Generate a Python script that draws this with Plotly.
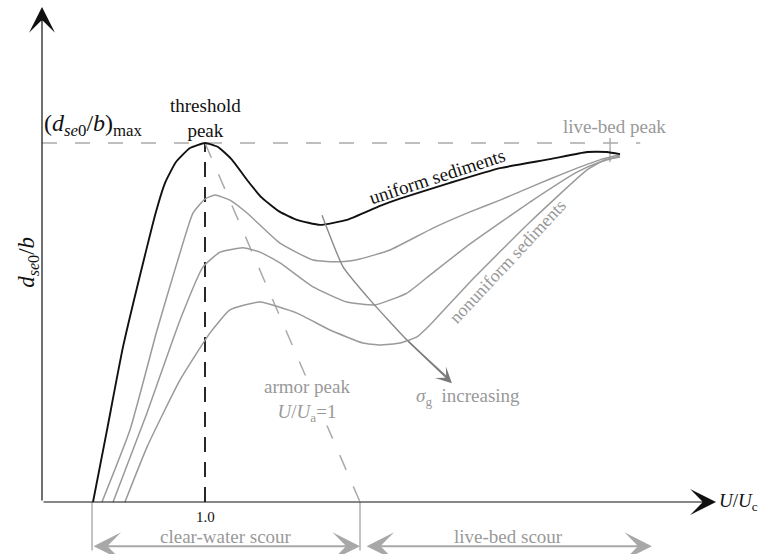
import plotly.graph_objects as go

# ---- data (x = U/Uc, y = d_se0/b normalised by its maximum) ----
x_uniform = [0.313, 0.399, 0.497, 0.644, 0.699, 0.755, 0.822, 0.908, 1.0, 1.080, 1.166, 1.258, 1.350,
             1.460, 1.564, 1.706, 1.871, 2.074, 2.196, 2.503, 2.810, 3.117, 3.344, 3.466, 3.546]
y_uniform = [0.0, 0.201, 0.432, 0.710, 0.808, 0.889, 0.947, 0.986, 1.0, 0.989, 0.953, 0.897, 0.847,
             0.808, 0.786, 0.772, 0.786, 0.825, 0.845, 0.889, 0.930, 0.955, 0.975, 0.975, 0.969]

x_nonuni1 = [0.368, 0.540, 0.706, 0.828, 0.926, 1.0, 1.061, 1.153, 1.258, 1.460, 1.663, 1.828,
             1.951, 2.135, 2.399, 2.626, 2.810, 3.012, 3.221, 3.423, 3.546]
y_nonuni1 = [0.0, 0.201, 0.479, 0.666, 0.805, 0.844, 0.855, 0.841, 0.805, 0.721, 0.674, 0.669,
             0.677, 0.702, 0.763, 0.808, 0.841, 0.880, 0.919, 0.953, 0.967]

x_nonuni2 = [0.436, 0.644, 0.847, 0.988, 1.092, 1.233, 1.337, 1.460, 1.663, 1.871, 2.043, 2.239,
             2.380, 2.626, 3.012, 3.282, 3.423, 3.546]
y_nonuni2 = [0.0, 0.248, 0.507, 0.655, 0.696, 0.708, 0.696, 0.666, 0.599, 0.557, 0.549, 0.582,
             0.632, 0.719, 0.841, 0.919, 0.947, 0.964]

x_nonuni3 = [0.509, 0.644, 0.847, 1.031, 1.153, 1.337, 1.564, 1.767, 1.969, 2.074, 2.196, 2.301,
             2.380, 2.626, 2.994, 3.344, 3.454, 3.546]
y_nonuni3 = [0.0, 0.153, 0.340, 0.471, 0.535, 0.557, 0.526, 0.479, 0.443, 0.437, 0.443, 0.460,
             0.493, 0.613, 0.780, 0.925, 0.953, 0.961]

x_sigma = [1.718, 1.847, 2.012, 2.239, 2.485]
y_sigma = [0.799, 0.655, 0.563, 0.451, 0.348]
sigma_tip = (2.515, 0.331)

threshold_x = 1.0
max_y = 1.0
max_line_end = 3.67
armor_x0 = 1.951          # armor-peak line reaches the axis
livebed_peak_x = 3.485
livebed_tick = (0.947, 1.014)
clear_water = (0.307, 1.951)
live_bed = (1.982, 3.742)
tick_labels = ["1.0"]

X_RANGE = [-0.2577, 4.3988]
Y_RANGE = [-0.1448, 1.3983]

BLACK = "#111111"
GRAY = "#9a9a9a"
GRAY_T = "#999999"
FONT = "'Liberation Serif', 'Times New Roman', Times, 'DejaVu Serif', serif"

fig = go.Figure()

def line(x, y, color, width, dash=None, shape="spline"):
    fig.add_trace(go.Scatter(x=x, y=y, mode="lines", hoverinfo="skip", showlegend=False,
                             line=dict(color=color, width=width, dash=dash, shape=shape,
                                       smoothing=0.45 if shape == "spline" else None)))

# reference lines
line([0, max_line_end], [max_y, max_y], "#aaaaaa", 1.6, dash="15px,18px", shape="linear")
line([threshold_x, threshold_x], [0, max_y], BLACK, 1.8, dash="15px,10px", shape="linear")
line([threshold_x, armor_x0], [max_y, 0], "#aaaaaa", 1.5, dash="16px,18px", shape="linear")
line([livebed_peak_x, livebed_peak_x], list(livebed_tick), "#aaaaaa", 1.4, shape="linear")

# curves
line(x_nonuni3, y_nonuni3, GRAY, 1.5)
line(x_nonuni2, y_nonuni2, GRAY, 1.5)
line(x_nonuni1, y_nonuni1, GRAY, 1.5)
line(x_uniform, y_uniform, BLACK, 1.9)
line(x_sigma, y_sigma, "#8a8a8a", 1.4)

# scour-regime separators
line([clear_water[0], clear_water[0]], [0, -0.135], "#aaaaaa", 1.4, shape="linear")
line([clear_water[1], clear_water[1]], [0, -0.135], "#aaaaaa", 1.4, shape="linear")

ann = []
# axes as arrows
ann.append(dict(x=0, y=1.379, ax=0, ay=0, xref="x", yref="y", axref="x", ayref="y",
                showarrow=True, arrowhead=3, arrowsize=3.6, arrowwidth=1.2, arrowcolor=BLACK, text=""))
ann.append(dict(x=4.135, y=0, ax=0, ay=0, xref="x", yref="y", axref="x", ayref="y",
                showarrow=True, arrowhead=3, arrowsize=3.6, arrowwidth=1.2, arrowcolor=BLACK, text=""))
# regime double arrows
for a, b in (clear_water, live_bed):
    ann.append(dict(x=b, y=-0.123, ax=a, ay=-0.123, xref="x", yref="y", axref="x", ayref="y",
                    showarrow=True, arrowhead=3, startarrowhead=3, arrowside="end+start",
                    arrowsize=2.3, startarrowsize=2.3, arrowwidth=2, arrowcolor="#a8a8a8", text=""))
# sigma arrow head
ann.append(dict(x=sigma_tip[0], y=sigma_tip[1], ax=x_sigma[-2], ay=y_sigma[-2],
                xref="x", yref="y", axref="x", ayref="y", showarrow=True, arrowhead=3,
                arrowsize=1.9, arrowwidth=1.4, arrowcolor="#7a7a7a", text=""))

def txt(x, y, s, color=BLACK, size=18, angle=0, xanchor="center", bg=None):
    d = dict(x=x, y=y, xref="x", yref="y", text=s, showarrow=False, textangle=angle,
             xanchor=xanchor, yanchor="middle", font=dict(family=FONT, size=size, color=color))
    if bg:
        d["bgcolor"] = bg
        d["borderpad"] = 0
    ann.append(d)

txt(1.0, 1.071, "threshold<br>peak", size=19)
txt(0.0, 1.050, "(<i>d<sub>se</sub></i><sub>0</sub>/<i>b</i>)<sub>max</sub>", size=24, xanchor="left")
txt(3.515, 1.045, "live-bed peak", GRAY_T, 19)
txt(2.423, 0.908, "uniform sediments", BLACK, 19, angle=-18)
txt(2.853, 0.669, "nonuniform sediments", GRAY_T, 18, angle=-47)
txt(2.613, 0.292, "<i>σ</i><sub>g</sub>  increasing", GRAY_T, 19)
txt(1.626, 0.282, "armor peak<br><i>U</i>/<i>U</i><sub>a</sub>=1", GRAY_T, 19, bg="white")
txt(threshold_x, -0.042, tick_labels[0], BLACK, 15)
txt(sum(clear_water) / 2, -0.095, "clear-water scour", GRAY_T, 19)
txt(2.859, -0.095, "live-bed scour", GRAY_T, 19)
txt(-0.086, 0.669, "<i>d<sub>se</sub></i><sub>0</sub>/<i>b</i>", BLACK, 23, angle=-90)
txt(4.141, 0.0, "<i>U</i>/<i>U</i><sub>c</sub>", BLACK, 19, xanchor="left")

fig.update_layout(
    width=759, height=554, margin=dict(l=0, r=0, t=0, b=0),
    paper_bgcolor="white", plot_bgcolor="white",
    xaxis=dict(range=X_RANGE, visible=False, fixedrange=True),
    yaxis=dict(range=Y_RANGE, visible=False, fixedrange=True),
    annotations=ann, showlegend=False,
)
fig.write_html("out.html")
